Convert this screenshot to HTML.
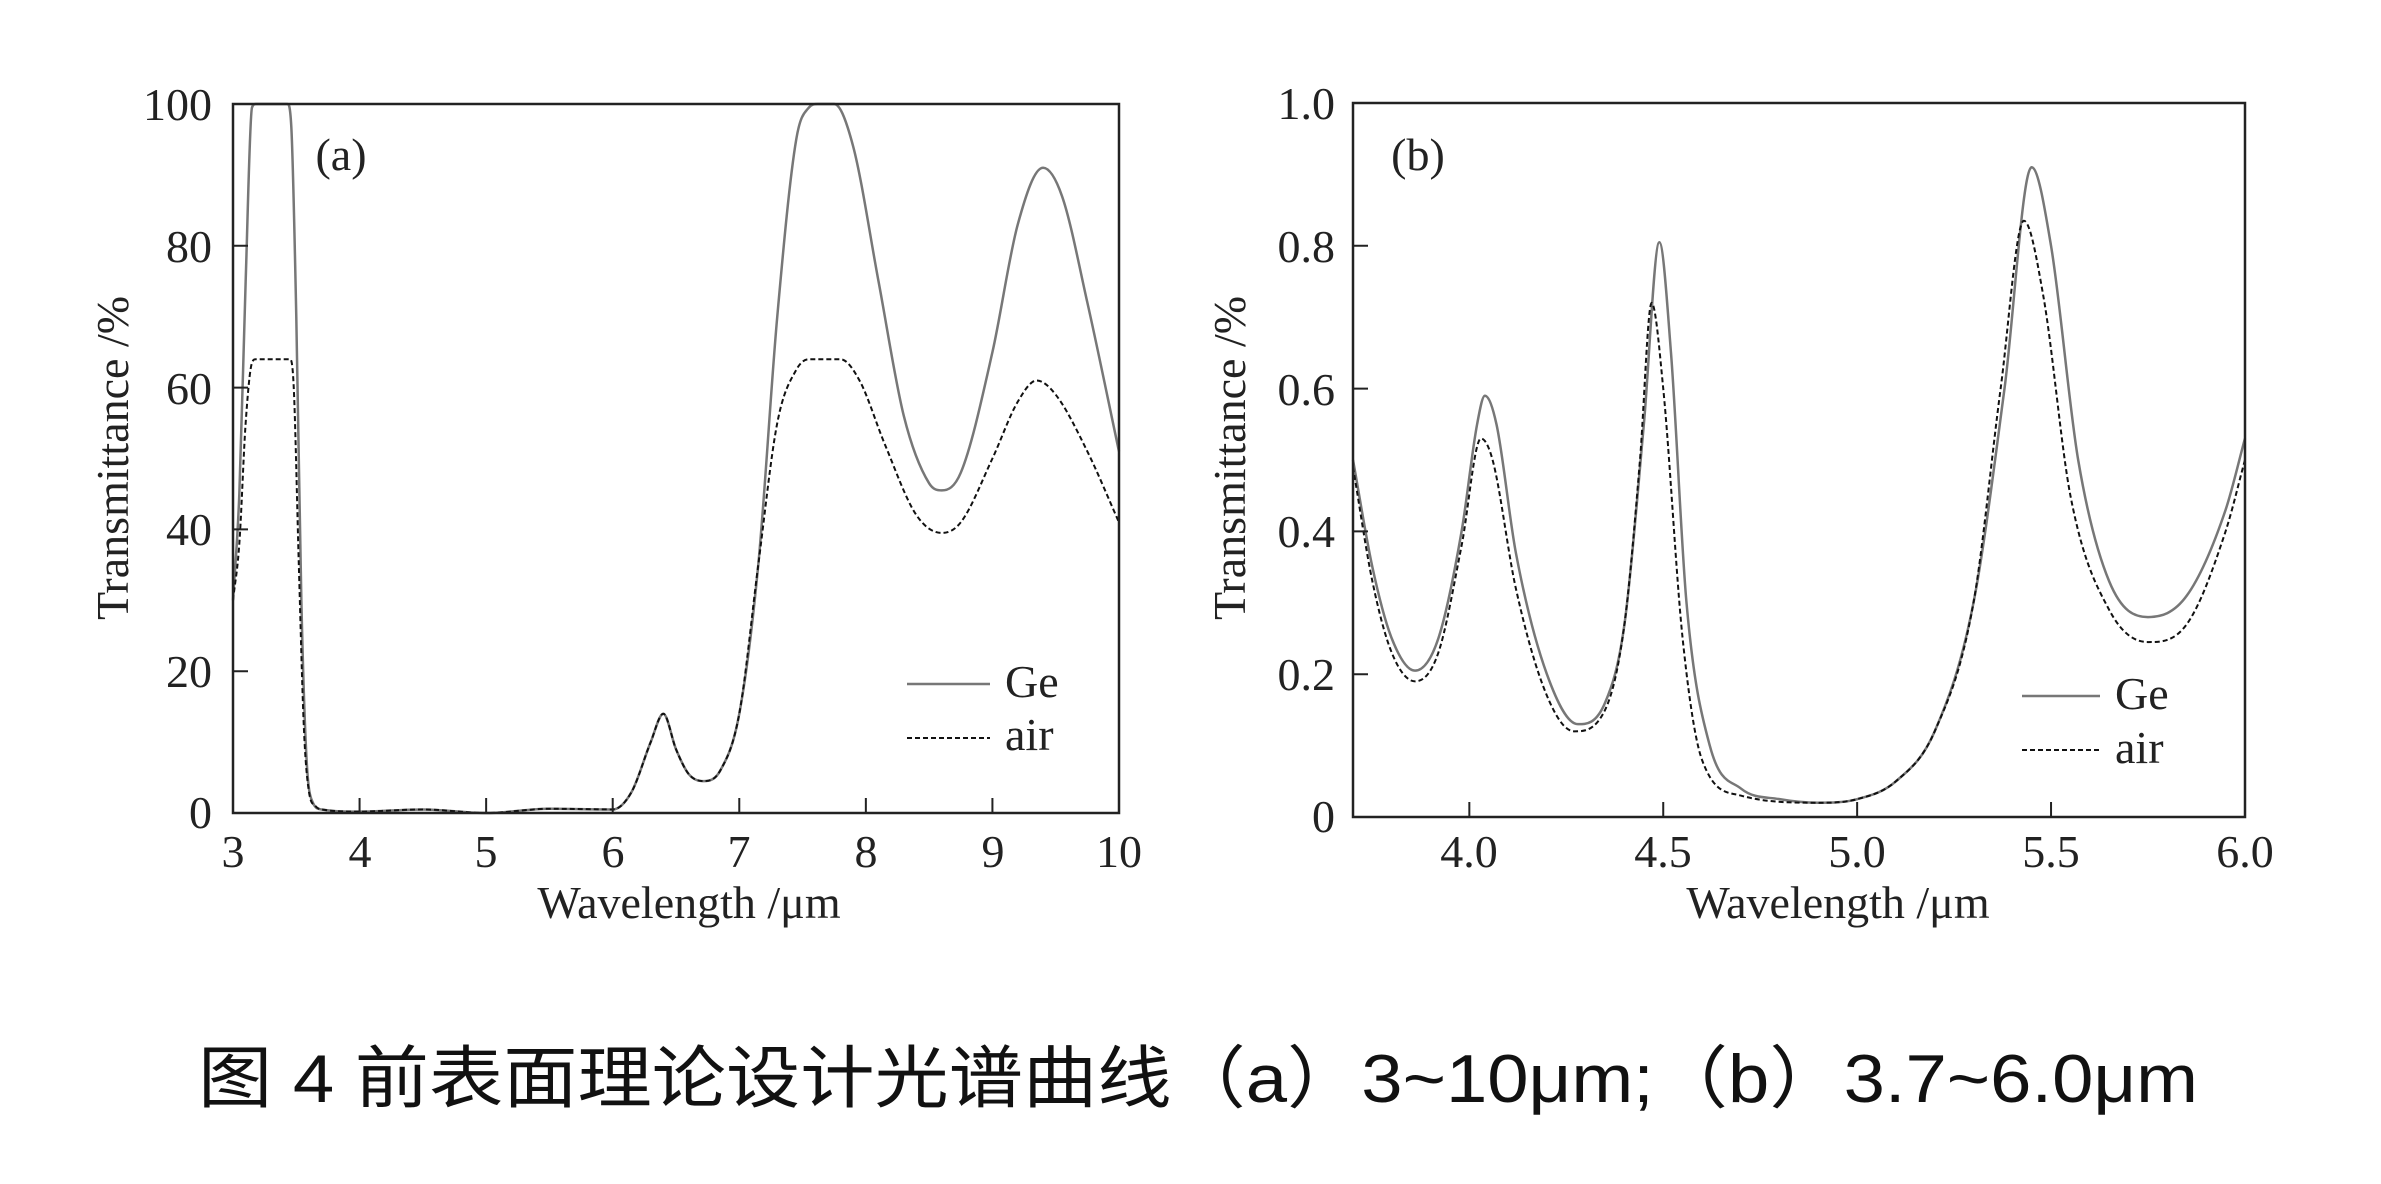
<!DOCTYPE html>
<html><head><meta charset="utf-8"><style>
html,body{margin:0;padding:0;background:#fff;}
svg{display:block;}
.t{font-family:"Liberation Serif",serif;font-size:46px;fill:#222;}
.c{font-family:"Liberation Sans","Noto Sans CJK SC",sans-serif;font-size:68px;fill:#111;}
</style></head><body>
<svg id="s" width="2381" height="1184" viewBox="0 0 2381 1184" xmlns="http://www.w3.org/2000/svg">
<rect width="2381" height="1184" fill="#fff"/>
<g id="g"></g>
<rect x="233" y="104" width="886" height="709" fill="none" stroke="#222" stroke-width="2.5"/>
<g class="t" text-anchor="end">
<text x="212" y="120">100</text><text x="212" y="262">80</text><text x="212" y="404">60</text>
<text x="212" y="545">40</text><text x="212" y="687">20</text><text x="212" y="828">0</text>
</g>
<g class="t" text-anchor="middle">
<text x="233" y="867">3</text><text x="360" y="867">4</text><text x="486" y="867">5</text><text x="613" y="867">6</text>
<text x="739" y="867">7</text><text x="866" y="867">8</text><text x="993" y="867">9</text><text x="1119" y="867">10</text>
<text x="689" y="918">Wavelength /μm</text>
<text transform="translate(128,458) rotate(-90)">Transmittance /%</text>
<text x="341" y="170">(a)</text>
</g>
<g class="t"><text x="1005" y="697">Ge</text><text x="1005" y="750">air</text></g>
<line x1="907" y1="684" x2="990" y2="684" stroke="#777" stroke-width="2.5"/>
<line x1="907" y1="738" x2="990" y2="738" stroke="#111" stroke-width="2" stroke-dasharray="5 3"/>
<rect x="1353" y="103" width="892" height="714" fill="none" stroke="#222" stroke-width="2.5"/>
<g class="t" text-anchor="end">
<text x="1335" y="119">1.0</text><text x="1335" y="262">0.8</text><text x="1335" y="405">0.6</text>
<text x="1335" y="547">0.4</text><text x="1335" y="690">0.2</text><text x="1335" y="832">0</text>
</g>
<g class="t" text-anchor="middle">
<text x="1469" y="867">4.0</text><text x="1663" y="867">4.5</text><text x="1857" y="867">5.0</text>
<text x="2051" y="867">5.5</text><text x="2245" y="867">6.0</text>
<text x="1838" y="918">Wavelength /μm</text>
<text transform="translate(1245,458) rotate(-90)">Transmittance /%</text>
<text x="1418" y="170">(b)</text>
</g>
<g class="t"><text x="2115" y="709">Ge</text><text x="2115" y="763">air</text></g>
<line x1="2022" y1="696" x2="2100" y2="696" stroke="#777" stroke-width="2.5"/>
<line x1="2022" y1="750" x2="2100" y2="750" stroke="#111" stroke-width="2" stroke-dasharray="5 3"/>
<text class="c" x="198" y="1102" textLength="2000" lengthAdjust="spacingAndGlyphs">图 4 前表面理论设计光谱曲线（a）3~10μm;（b）3.7~6.0μm</text>
</svg>
<script>
var g=document.getElementById('g');
function path(pts,fx,fy){var P=pts.map(function(p){return [fx(p[0]),fy(p[1])]});
var n=P.length,d=[],m=[];
for(var i=0;i<n-1;i++)d.push((P[i+1][1]-P[i][1])/(P[i+1][0]-P[i][0]));
m[0]=d[0];m[n-1]=d[n-2];
for(i=1;i<n-1;i++){if(d[i-1]*d[i]<=0)m[i]=0;else{m[i]=(d[i-1]+d[i])/2;}}
for(i=0;i<n-1;i++){if(d[i]==0){m[i]=0;m[i+1]=0;continue;}var a=m[i]/d[i],b=m[i+1]/d[i],s=a*a+b*b;if(s>9){var t=3/Math.sqrt(s);m[i]=t*a*d[i];m[i+1]=t*b*d[i];}}
var s='M'+P[0][0]+','+P[0][1];
for(i=0;i<n-1;i++){var h=(P[i+1][0]-P[i][0])/3;
s+=' C'+(P[i][0]+h)+','+(P[i][1]+m[i]*h)+' '+(P[i+1][0]-h)+','+(P[i+1][1]-m[i+1]*h)+' '+P[i+1][0]+','+P[i+1][1];}
return s;}
function add(d,dash){var e=document.createElementNS('http://www.w3.org/2000/svg','path');e.setAttribute('d',d);e.setAttribute('fill','none');
e.setAttribute('stroke',dash?'#111':'#777');e.setAttribute('stroke-width',dash?2:2.5);if(dash)e.setAttribute('stroke-dasharray','5 3');g.appendChild(e);}
var ax=function(x){return 233+(x-3)*126.57},ay=function(y){return 813-y*7.09};
var bx=function(x){return 1353+(x-3.7)*387.8},by=function(y){return 817-y*714};
var low=[[3.7,0.5],[4,0.2],[4.5,0.5],[5,0],[5.5,0.6],[6,0.5],[6.15,3],[6.3,10],[6.4,14],[6.5,9],[6.6,5.5],[6.72,4.5],[6.85,6],[7.0,14],[7.15,35]];
var aGe=[[3,30],[3.05,45],[3.1,75],[3.15,99.5],[3.18,100],[3.43,100],[3.46,97],[3.5,70],[3.54,30],[3.58,8],[3.63,1.5]].concat(low,[[7.3,70],[7.45,95],[7.55,99.5],[7.62,100],[7.75,100],[7.9,94],[8.1,75],[8.3,56],[8.5,46.5],[8.6,45.5],[8.75,48],[9.0,65],[9.2,83],[9.4,91],[9.55,87],[9.75,72],[10,51]]);
var aAir=[[3,30],[3.05,38],[3.1,55],[3.15,63.5],[3.18,64],[3.45,64],[3.48,60],[3.52,35],[3.56,12],[3.6,3],[3.65,1]].concat(low,[[7.3,55],[7.45,62.5],[7.55,64],[7.8,64],[7.95,61],[8.15,52],[8.4,42],[8.6,39.5],[8.75,41],[9.0,50],[9.2,58],[9.35,61],[9.5,59],[9.75,51],[10,41]]);
var bGe=[[3.7,0.5],[3.75,0.35],[3.8,0.25],[3.86,0.205],[3.92,0.25],[3.98,0.4],[4.02,0.55],[4.04,0.59],[4.07,0.55],[4.12,0.37],[4.2,0.2],[4.28,0.13],[4.35,0.16],[4.4,0.27],[4.45,0.55],[4.49,0.805],[4.52,0.65],[4.56,0.3],[4.62,0.1],[4.7,0.04],[4.8,0.025],[4.9,0.02],[5.0,0.025],[5.1,0.05],[5.2,0.12],[5.3,0.3],[5.38,0.6],[5.45,0.91],[5.5,0.8],[5.57,0.5],[5.65,0.33],[5.75,0.28],[5.85,0.31],[5.95,0.43],[6.0,0.53]];
var bAir=[[3.7,0.49],[3.75,0.33],[3.8,0.23],[3.86,0.19],[3.92,0.23],[3.98,0.38],[4.03,0.53],[4.06,0.5],[4.12,0.32],[4.2,0.17],[4.27,0.12],[4.35,0.15],[4.4,0.27],[4.44,0.5],[4.47,0.72],[4.5,0.6],[4.55,0.25],[4.6,0.08],[4.7,0.03],[4.9,0.02],[5.0,0.025],[5.1,0.05],[5.2,0.12],[5.3,0.3],[5.37,0.6],[5.43,0.835],[5.48,0.73],[5.55,0.45],[5.65,0.29],[5.75,0.245],[5.85,0.27],[5.95,0.4],[6.0,0.5]];
add(path(aGe,ax,ay),0);add(path(aAir,ax,ay),1);add(path(bGe,bx,by),0);add(path(bAir,bx,by),1);
var t='';for(var i=1;i<7;i++){var x=ax(3+i);t+='M'+x+',813v-15';}
for(var j=1;j<5;j++){var y=813-j*141.8;t+='M233,'+y+'h15';}
[4,4.5,5,5.5].forEach(function(v){t+='M'+bx(v)+',817v-15'});
for(var k=1;k<5;k++){t+='M1353,'+(817-k*142.8)+'h15';}
var e=document.createElementNS('http://www.w3.org/2000/svg','path');e.setAttribute('d',t);e.setAttribute('stroke','#222');e.setAttribute('stroke-width','2');g.appendChild(e);
</script>
</body></html>
